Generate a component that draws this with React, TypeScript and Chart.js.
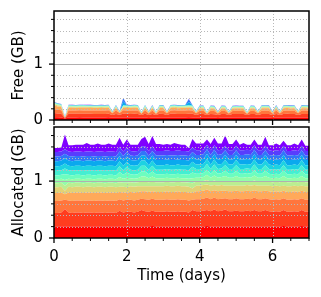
import React, { useEffect, useRef } from 'react';
import { Chart, registerables } from 'chart.js';
Chart.register(...registerables);

// Time axis (days)
const days = [
  0, 0.1, 0.2, 0.3, 0.4, 0.5, 0.6, 0.7, 0.8, 0.9,
  1, 1.1, 1.2, 1.3, 1.4, 1.5, 1.6, 1.7, 1.8, 1.9,
  2, 2.1, 2.2, 2.3, 2.4, 2.5, 2.6, 2.7, 2.8, 2.9,
  3, 3.1, 3.2, 3.3, 3.4, 3.5, 3.6, 3.7, 3.8, 3.9,
  4, 4.1, 4.2, 4.3, 4.4, 4.5, 4.6, 4.7, 4.8, 4.9,
  5, 5.1, 5.2, 5.3, 5.4, 5.5, 5.6, 5.7, 5.8, 5.9,
  6, 6.1, 6.2, 6.3, 6.4, 6.5, 6.6, 6.7, 6.8, 6.9,
  7,
];

// Tick values
const xMajorTicks = [0, 2, 4, 6];
const xMinorTicks = [0.5, 1, 1.5, 2.5, 3, 3.5, 4.5, 5, 5.5, 6.5, 7];
const yMajorTicks = [0, 1];
const yMinorTicks = [0.2, 0.4, 0.6, 0.8, 1.2, 1.4, 1.6, 1.8];
const yMax = 1.95;

// Free memory layers (units of 0.001 GB), bottom to top
const free1 = [50,48,46,25,44,46,45,47,44,46, 45,43,46,44,45,47,40,44,42,45, 46,44,45,43,40,45,38,44,40,46, 44,40,45,46,44,43,45,47,46,40, 44,45,40,46,44,38,45,43,40,44, 45,46,44,40,45,44,40,45,46,44, 38,45,40,44,46,45,44,40,45,46, 44];
const free2 = [75,70,68,10,66,64,65,67,66,64, 65,66,63,65,64,66,50,65,52,66, 65,64,66,65,48,66,50,64,48,65, 64,50,66,65,64,66,64,66,65,50, 62,63,48,62,61,50,62,63,48,62, 63,61,62,48,63,62,50,64,63,62, 50,64,50,63,64,62,63,50,64,63, 62];
const free3 = [70,65,62,0,60,62,60,61,60,62, 60,61,60,59,60,61,30,60,30,62, 60,61,60,62,25,60,30,61,25,60, 61,30,60,62,60,61,60,62,60,30, 58,57,25,58,57,30,58,56,28,57, 58,57,56,25,58,57,30,58,59,58, 30,60,28,59,60,58,60,30,60,59, 58];
const free4 = [70,60,55,0,48,45,46,44,47,45, 46,44,45,47,44,46,10,45,8,46, 45,44,46,45,5,44,10,45,5,44, 45,10,44,46,44,45,46,44,45,10, 40,41,5,40,39,10,40,38,8,40, 39,40,41,5,40,39,10,42,43,44, 10,44,8,43,44,42,44,10,43,44, 42];
const free5 = [20,18,16,0,15,15,14,15,16,15, 15,14,15,16,15,14,0,15,0,15, 15,14,16,15,0,15,0,14,0,15, 14,0,15,16,15,14,15,15,14,0, 14,15,0,14,13,0,14,15,0,14, 14,13,14,0,15,14,0,15,14,15, 0,14,0,15,14,15,14,0,15,14, 14];
const free6 = [8,8,8,3,8,8,8,8,8,8, 8,8,8,8,8,8,3,8,3,8, 8,8,8,8,3,8,3,8,3,8, 8,3,8,8,8,8,8,8,8,3, 8,8,3,8,8,3,8,8,3,8, 8,8,8,3,8,8,3,8,8,8, 3,8,3,8,8,8,8,3,8,8, 8];
const free7 = [8,8,8,3,8,8,8,8,8,8, 8,8,8,8,8,8,3,8,3,8, 8,8,8,8,3,8,3,8,3,8, 8,3,8,8,8,8,8,8,8,3, 8,8,3,8,8,3,8,8,3,8, 8,8,8,3,8,8,3,8,8,8, 3,8,3,8,8,8,8,3,8,8, 8];
const free8 = [5,5,5,2,5,5,5,5,5,5, 5,5,5,5,5,5,2,5,2,5, 5,5,5,5,2,5,2,5,2,5, 5,2,5,5,5,5,5,5,5,2, 5,5,2,5,5,2,5,5,2,5, 5,5,5,2,5,5,2,5,5,5, 2,5,2,5,5,5,5,2,5,5, 5];
const free9 = [4,4,4,4,4,4,4,4,4,4, 4,4,4,4,4,4,4,4,4,4, 4,4,4,4,4,4,4,4,4,4, 4,4,4,4,4,4,4,4,4,4, 4,4,4,4,4,4,4,4,4,4, 4,4,4,4,4,4,4,4,4,4, 4,4,4,4,4,4,4,4,4,4, 4];
const free10 = [4,4,4,4,4,4,4,4,4,4, 4,4,4,4,4,4,4,4,4,4, 4,4,4,4,4,4,4,4,4,4, 4,4,4,4,4,4,4,4,4,4, 4,4,4,4,4,4,4,4,4,4, 4,4,4,4,4,4,4,4,4,4, 4,4,4,4,4,4,4,4,4,4, 4];
const free11 = [3,3,3,3,3,3,3,3,3,3, 3,3,3,3,3,3,3,3,3,70, 3,3,3,3,3,3,3,3,3,3, 3,3,3,3,3,3,3,60,3,3, 3,3,3,3,3,3,3,3,3,3, 3,3,3,3,3,3,3,3,3,3, 3,3,3,3,3,3,3,3,3,3, 3];
const free12 = [3,3,3,3,3,3,3,3,3,3, 3,3,3,3,3,3,3,3,3,60, 3,3,3,3,3,3,3,3,3,3, 3,3,3,3,3,3,3,50,3,3, 3,3,3,3,3,3,3,3,3,3, 3,3,3,3,3,3,3,3,3,3, 3,3,3,3,3,3,3,3,3,3, 3];
const free13 = [3,3,3,3,3,3,3,3,3,3, 3,3,3,3,3,3,3,3,3,3, 3,3,3,3,3,3,3,3,3,3, 3,3,3,3,3,3,3,3,3,3, 3,3,3,3,3,3,3,3,3,3, 3,3,3,3,3,3,3,3,3,3, 3,3,3,3,3,3,3,3,3,3, 3];
const free14 = [2,2,2,2,2,2,2,2,2,2, 2,2,2,2,2,2,2,2,2,2, 2,2,2,2,2,2,2,2,2,2, 2,2,2,2,2,2,2,2,2,2, 2,2,2,2,2,2,2,2,2,2, 2,2,2,2,2,2,2,2,2,2, 2,2,2,2,2,2,2,2,2,2, 2];

// Allocated memory layers (units of 0.01 GB), bottom to top
const alloc1 = [20,20,20,20,20,20,20,20,20,20, 20,20,20,20,20,20,20,20,20,20, 20,20,20,20,20,20,20,21,20,20, 20,20,20,20,20,20,20,20,20,20, 20,20,21,20,20,20,20,20,20,20, 20,20,20,20,20,20,20,20,20,20, 20,20,20,21,20,20,20,20,21,20, 20];
const alloc2 = [24,24,25,31,25,24,25,25,24,25, 25,24,25,25,24,25,25,24,28,25, 26,26,25,26,29,27,26,27,26,26, 26,27,26,26,27,26,26,25,29,27, 27,28,28,27,30,27,28,30,27,27, 28,27,27,28,27,29,27,27,29,27, 26,27,26,28,26,26,27,26,28,26, 26];
const alloc3 = [21,21,21,16,21,21,21,21,21,21, 21,21,21,21,21,21,21,21,20,21, 21,21,21,21,20,21,21,21,21,21, 21,21,21,21,21,21,21,21,18,21, 21,21,22,21,21,21,21,20,21,21, 22,21,21,21,21,22,21,21,21,21, 21,21,21,21,21,21,21,21,21,21, 21];
const alloc4 = [14,14,14,10,14,14,14,14,14,14, 14,14,14,14,14,14,14,14,13,14, 13,14,14,14,13,14,14,13,14,14, 14,14,14,14,14,14,14,14,12,14, 14,14,14,14,13,14,14,13,14,14, 13,14,14,14,14,13,14,14,13,14, 14,14,14,13,14,14,14,14,13,14, 14];
const alloc5 = [10,10,10,6,10,10,10,10,10,10, 10,10,10,10,10,10,10,10,9,10, 9,10,10,10,9,9,10,9,10,10, 10,10,10,10,10,10,10,10,8,10, 10,10,9,10,9,10,10,9,10,10, 9,10,10,10,10,9,10,10,9,10, 10,10,10,9,10,10,10,10,9,10, 10];
const alloc6 = [7,7,7,9,7,7,7,7,7,7, 7,7,7,7,7,7,7,7,8,7, 8,7,7,7,8,8,7,8,7,7, 7,7,7,7,7,7,7,7,9,7, 7,7,8,7,8,7,7,8,7,7, 8,7,7,7,7,8,7,7,8,7, 7,7,7,8,7,7,7,7,8,7, 7];
const alloc7 = [7,7,7,10,7,7,7,7,7,7, 7,7,7,7,7,7,7,7,9,7, 9,7,7,7,9,9,7,9,7,7, 7,7,7,7,7,7,7,7,9,7, 7,7,9,7,9,7,7,9,7,7, 9,7,7,7,7,9,7,7,9,7, 7,7,7,9,7,7,7,7,9,7, 7];
const alloc8 = [7,7,7,10,7,7,7,7,7,7, 7,7,7,7,7,7,7,7,9,7, 9,7,7,7,9,9,7,9,7,7, 7,7,7,7,7,7,7,7,10,7, 7,7,9,7,9,7,7,9,7,7, 9,7,7,7,7,9,7,7,9,7, 7,7,7,9,7,7,7,7,9,7, 7];
const alloc9 = [8,8,8,10,8,8,8,8,8,8, 8,8,8,8,8,8,8,8,10,8, 10,8,8,8,10,10,8,10,8,8, 8,8,8,8,8,8,8,8,10,8, 8,8,10,8,10,8,8,10,8,8, 10,8,8,8,8,10,8,8,10,8, 8,8,8,10,8,8,8,8,10,8, 8];
const alloc10 = [8,8,8,9,8,8,8,8,8,8, 8,8,8,8,8,8,8,8,9,8, 9,8,8,8,9,9,8,9,8,8, 8,8,8,8,8,8,8,8,9,8, 8,8,9,8,9,8,8,9,8,8, 9,8,8,8,8,9,8,8,9,8, 8,8,8,9,8,8,8,8,9,8, 8];
const alloc11 = [9,9,9,9,9,9,9,9,9,9, 9,9,9,9,9,9,9,9,9,9, 9,9,9,9,9,9,9,9,9,9, 9,9,9,9,9,9,9,9,9,9, 9,9,9,9,9,9,9,9,9,9, 9,9,9,9,9,9,9,9,9,9, 9,9,9,9,9,9,9,9,9,9, 9];
const alloc12 = [8,8,8,8,8,8,8,8,8,8, 8,8,8,8,8,8,8,8,8,8, 8,8,8,8,8,8,8,8,8,8, 8,8,8,8,8,8,8,8,8,8, 8,8,8,8,8,8,8,8,8,8, 8,8,8,8,8,8,8,8,8,8, 8,8,8,8,8,8,8,8,8,8, 8];
const alloc13 = [8,8,8,8,8,8,8,8,8,8, 8,8,8,8,8,8,8,8,8,8, 8,8,8,8,8,8,8,8,8,8, 8,8,8,8,8,8,8,8,8,8, 8,8,8,8,8,8,8,8,8,8, 8,8,8,8,8,8,8,8,8,8, 8,8,8,8,8,8,8,8,8,8, 8];
const alloc14 = [7,7,7,26,11,12,12,12,13,15, 12,13,14,12,13,14,12,13,16,12, 14,11,12,11,13,17,12,18,12,12, 11,11,11,14,11,11,11,6,15,12, 12,11,9,11,13,12,11,18,11,11, 11,10,13,9,10,10,10,10,16,9, 10,12,10,9,10,10,12,10,11,9, 9];

const freeLayers = [free1, free2, free3, free4, free5, free6, free7, free8, free9, free10, free11, free12, free13, free14];
const allocLayers = [alloc1, alloc2, alloc3, alloc4, alloc5, alloc6, alloc7, alloc8, alloc9, alloc10, alloc11, alloc12, alloc13, alloc14];

// rainbow colormap samples, bottom (red) to top (violet)
const layerColors = [
  '#ff0000', '#ff3d1f', '#ff763d', '#ffa95a', '#e2d276', '#baee91', '#93fda9',
  '#6cfdbf', '#45eed2', '#1dd2e2', '#0aa9ee', '#3176f8', '#583dfd', '#8000ff',
];

const FONT = { family: '"DejaVu Sans", sans-serif', size: 15 };

function makeSets(layers: number[][], unit: number) {
  return layers.map((arr, i) => ({
    data: arr.map((v, j) => ({ x: days[j], y: v / unit })),
    backgroundColor: layerColors[i],
    borderColor: 'rgba(0,0,0,0)',
    borderWidth: 0,
    pointRadius: 0,
    pointHoverRadius: 0,
    fill: i === 0 ? 'origin' : '-1',
    tension: 0,
  }));
}

const axisDecor = {
  id: 'axisDecor',
  afterDatasetsDraw(chart: any) {
    const { ctx, chartArea: a } = chart;
    const xs = chart.scales.x;
    const ys = chart.scales.y;
    const line = (x1: number, y1: number, x2: number, y2: number) => {
      ctx.beginPath();
      ctx.moveTo(x1, y1);
      ctx.lineTo(x2, y2);
      ctx.stroke();
    };
    ctx.save();
    // grid
    ctx.lineWidth = 1;
    ctx.strokeStyle = '#b8b8b8';
    ctx.setLineDash([1, 2]);
    for (const v of yMinorTicks) {
      const p = Math.round(ys.getPixelForValue(v)) + 0.5;
      line(a.left, p, a.right, p);
    }
    for (const v of xMajorTicks) {
      if (v <= 0) continue;
      const p = Math.round(xs.getPixelForValue(v)) + 0.5;
      line(p, a.top, p, a.bottom);
    }
    ctx.setLineDash([]);
    ctx.strokeStyle = '#b0b0b0';
    for (const v of yMajorTicks) {
      if (v <= 0) continue;
      const p = Math.round(ys.getPixelForValue(v)) + 0.5;
      line(a.left, p, a.right, p);
    }
    // frame
    ctx.strokeStyle = '#000';
    ctx.lineWidth = 1.5;
    ctx.strokeRect(a.left, a.top, a.right - a.left, a.bottom - a.top);
    // ticks
    ctx.lineWidth = 1.3;
    for (const v of yMajorTicks) {
      const p = ys.getPixelForValue(v);
      line(a.left - 5, p, a.left, p);
    }
    ctx.lineWidth = 1;
    for (const v of yMinorTicks) {
      const p = ys.getPixelForValue(v);
      line(a.left - 3, p, a.left, p);
    }
    ctx.lineWidth = 1.3;
    for (const v of xMajorTicks) {
      const p = xs.getPixelForValue(v);
      line(p, a.bottom, p, a.bottom + 5);
    }
    ctx.lineWidth = 1;
    for (const v of xMinorTicks) {
      const p = xs.getPixelForValue(v);
      line(p, a.bottom, p, a.bottom + 3);
    }
    ctx.restore();
  },
};

const zeroPad = (s: any) => {
  s.paddingTop = 0;
  s.paddingBottom = 0;
  s.paddingLeft = 0;
  s.paddingRight = 0;
};

function buildConfig(layers: number[][], unit: number, yTitle: string, showX: boolean, padTop: number, xHeight: number): any {
  return {
    type: 'line',
    data: { datasets: makeSets(layers, unit) },
    options: {
      responsive: false,
      animation: false,
      devicePixelRatio: 1,
      events: [],
      layout: { padding: { top: padTop, right: 12, left: 0, bottom: 0 } },
      plugins: { legend: { display: false }, tooltip: { enabled: false } },
      scales: {
        x: {
          type: 'linear',
          min: 0,
          max: 7,
          afterFit: (s: any) => { s.height = xHeight; zeroPad(s); },
          afterBuildTicks: (s: any) => { s.ticks = xMajorTicks.map((v) => ({ value: v })); },
          grid: { display: false, drawTicks: false },
          border: { display: false },
          ticks: { display: showX, padding: 10, color: '#000', font: FONT, maxRotation: 0, autoSkip: false, callback: (v: any) => String(v) },
          title: { display: showX, text: 'Time (days)', color: '#000', font: FONT, padding: { top: 0, bottom: 12 } },
        },
        y: {
          stacked: true,
          min: 0,
          max: yMax,
          afterFit: (s: any) => { s.width = 54; zeroPad(s); },
          afterBuildTicks: (s: any) => { s.ticks = yMajorTicks.map((v) => ({ value: v })); },
          grid: { display: false, drawTicks: false },
          border: { display: false },
          ticks: { padding: 11, color: '#000', font: FONT, autoSkip: false, callback: (v: any) => String(v) },
          title: { display: true, text: yTitle, color: '#000', font: FONT, padding: { top: 10, bottom: 0 } },
        },
      },
    },
    plugins: [axisDecor],
  };
}

export default function App() {
  const topRef = useRef<HTMLCanvasElement>(null);
  const botRef = useRef<HTMLCanvasElement>(null);
  useEffect(() => {
    const c1 = new Chart(topRef.current as HTMLCanvasElement, buildConfig(freeLayers, 1000, 'Free (GB)', false, 11, 5));
    const c2 = new Chart(botRef.current as HTMLCanvasElement, buildConfig(allocLayers, 100, 'Allocated (GB)', true, 2, 59));
    return () => { c1.destroy(); c2.destroy(); };
  }, []);
  return (
    <div style={{ position: 'absolute', left: 0, top: 0, width: 321, height: 297, background: '#fff' }}>
      <canvas ref={topRef} width={321} height={125} style={{ position: 'absolute', left: 0, top: 0, width: 321, height: 125 }} />
      <canvas ref={botRef} width={321} height={172} style={{ position: 'absolute', left: 0, top: 125, width: 321, height: 172 }} />
    </div>
  );
}
